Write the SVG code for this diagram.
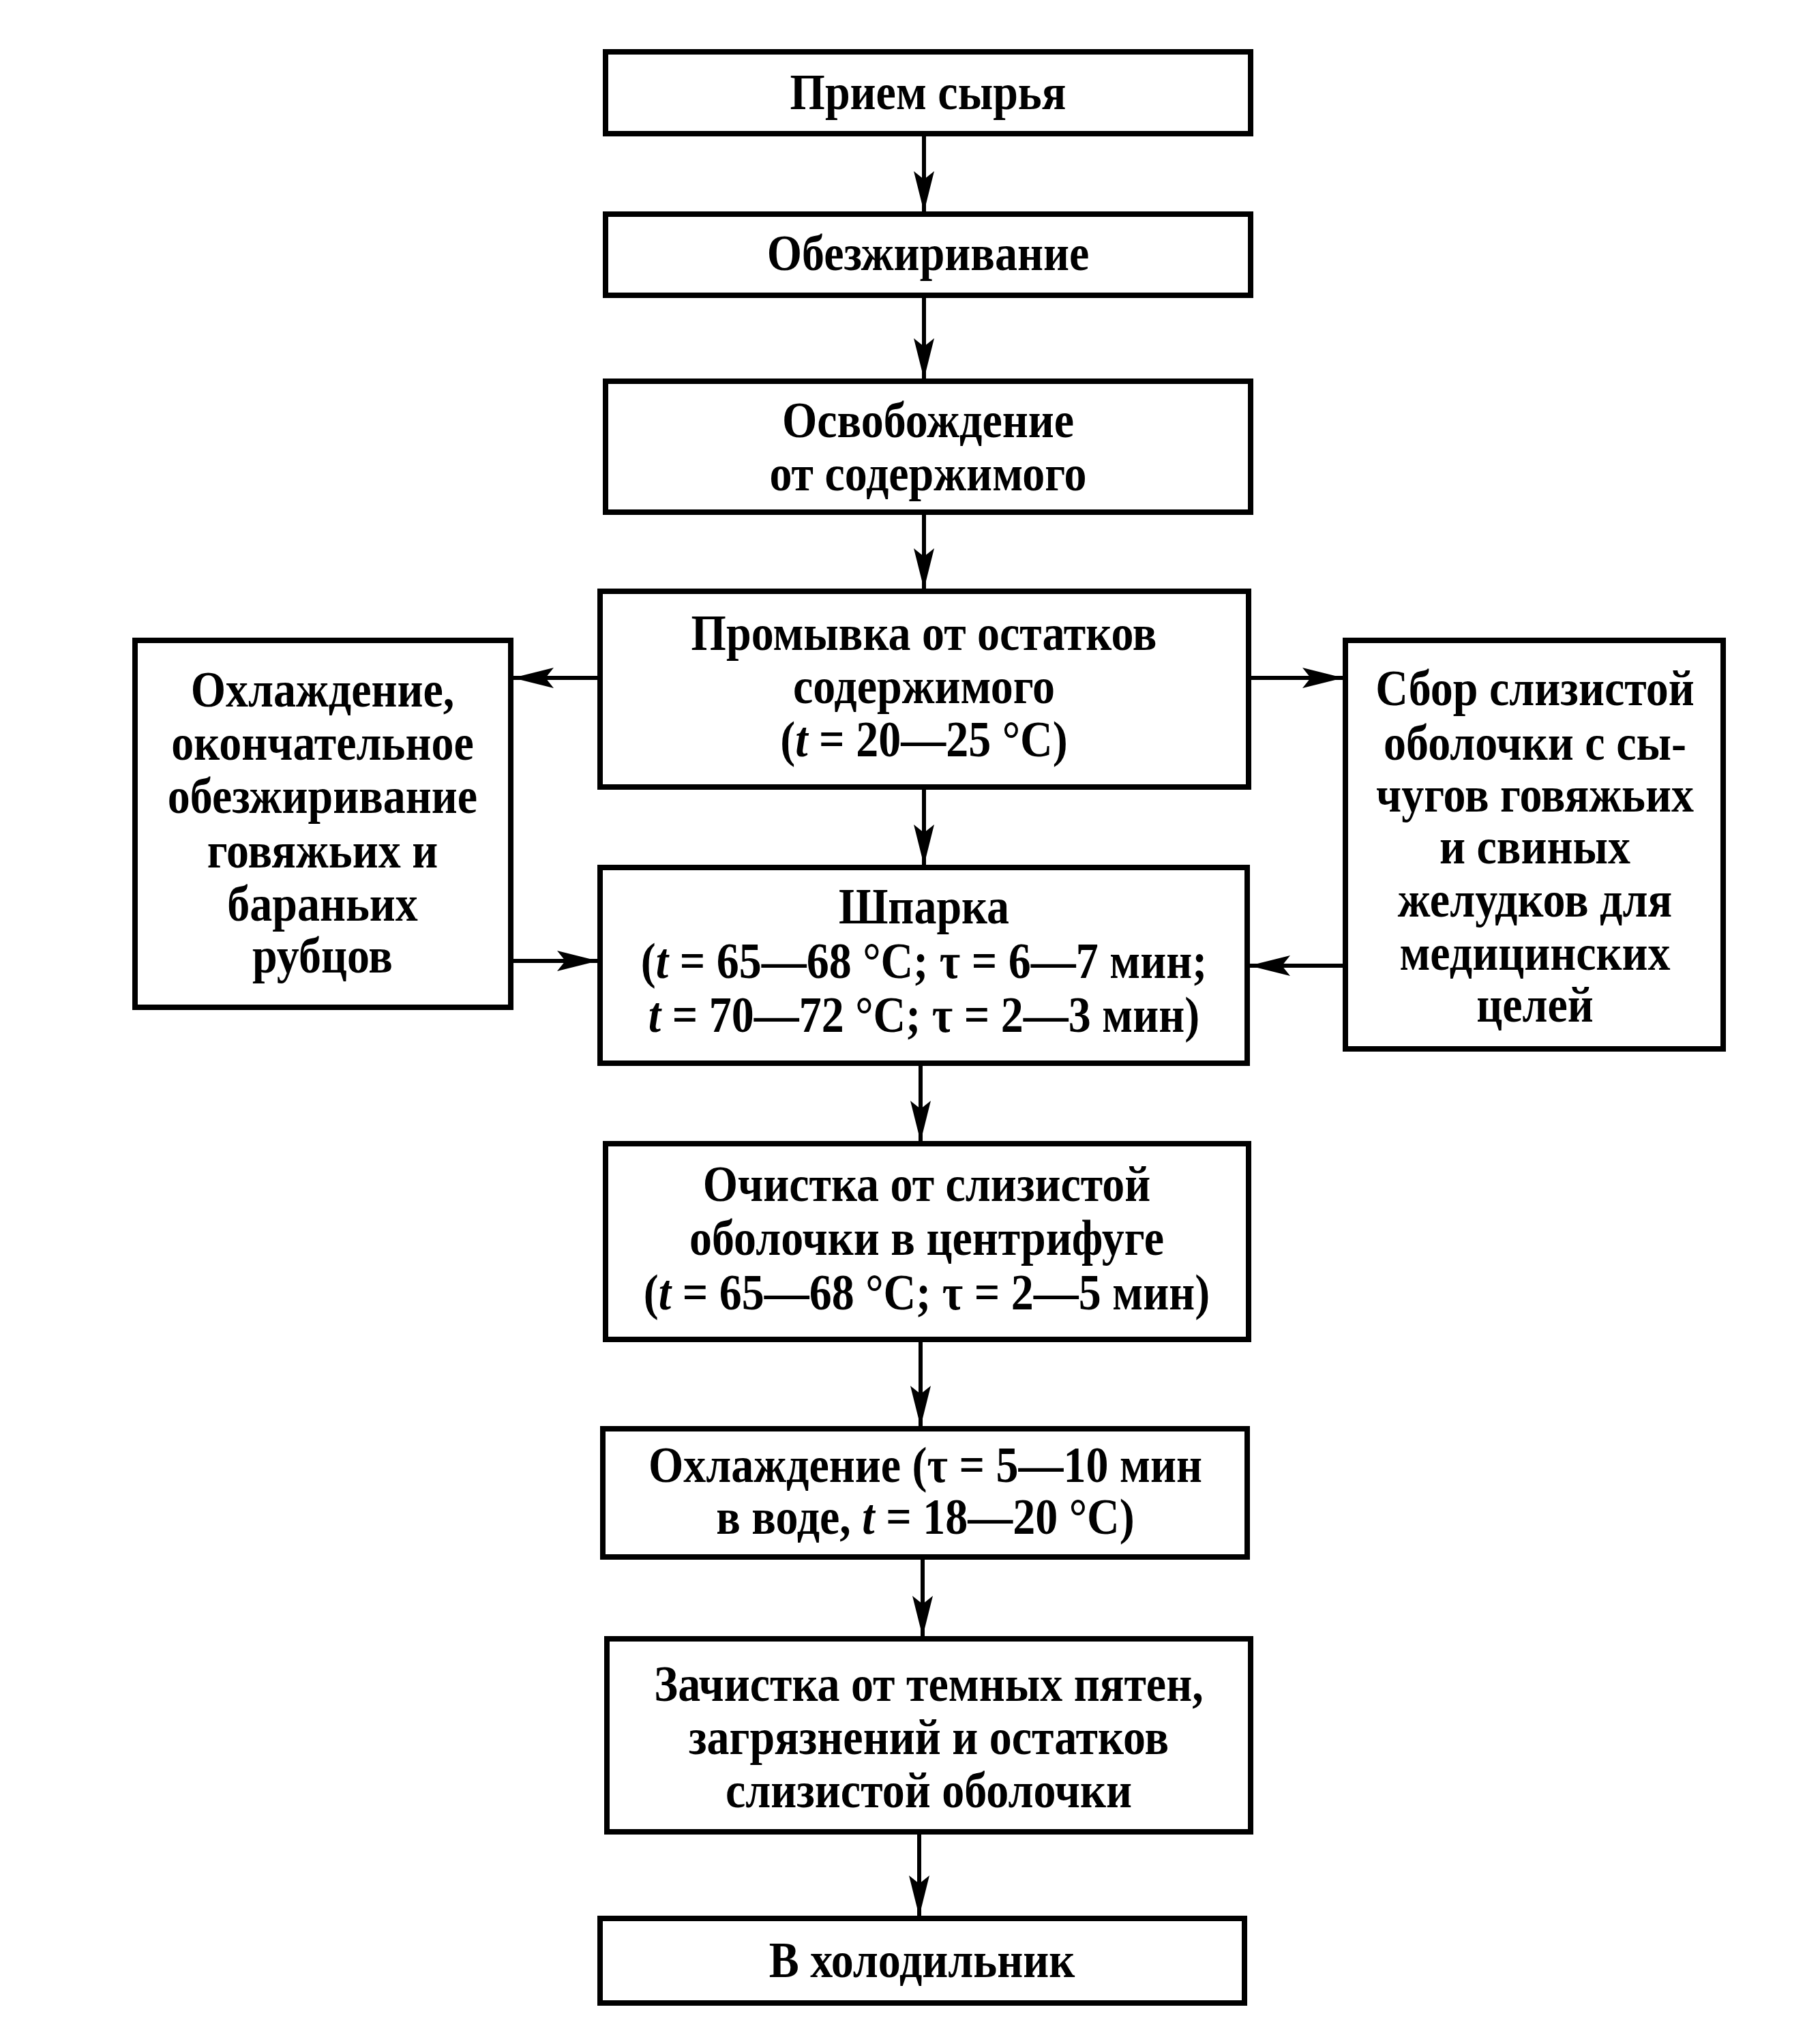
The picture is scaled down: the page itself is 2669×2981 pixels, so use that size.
<svg xmlns="http://www.w3.org/2000/svg" width="2669" height="2981" viewBox="0 0 2669 2981">
<style>
.box{fill:#fff;stroke:#000;stroke-width:8}
.t{font-family:"Liberation Serif","Times New Roman",serif;font-size:66px;font-weight:bold;text-anchor:middle;dominant-baseline:central;fill:#000}
.c{stroke:#000;stroke-width:6;fill:none;marker-end:url(#ah)}
</style>
<defs>
<marker id="ah" markerUnits="userSpaceOnUse" markerWidth="64" markerHeight="34" refX="60" refY="15" orient="auto">
<path d="M0,0 L60,15 L0,30 L12,15 Z" fill="#000"/>
</marker>
</defs>
<rect width="2669" height="2981" fill="#fff"/>
<g id="connectors">
<line class="c" x1="1355" y1="196" x2="1355" y2="311"/>
<line class="c" x1="1355" y1="433" x2="1355" y2="556"/>
<line class="c" x1="1355" y1="751" x2="1355" y2="864"/>
<line class="c" x1="1355" y1="1154" x2="1355" y2="1269"/>
<line class="c" x1="1350" y1="1559" x2="1350" y2="1674"/>
<line class="c" x1="1350" y1="1964" x2="1350" y2="2092"/>
<line class="c" x1="1353" y1="2283" x2="1353" y2="2400"/>
<line class="c" x1="1348" y1="2686" x2="1348" y2="2810"/>
<line class="c" x1="880" y1="994" x2="752" y2="994"/>
<line class="c" x1="749" y1="1409" x2="877" y2="1409"/>
<line class="c" x1="1831" y1="994" x2="1970" y2="994"/>
<line class="c" x1="1973" y1="1416" x2="1832" y2="1416"/>
</g>
<g id="n1"><rect class="box" x="888" y="76" width="946" height="120"/><text class="t" transform="translate(1361,135) scale(1,1.12)">Прием сырья</text></g>
<g id="n2"><rect class="box" x="888" y="314" width="946" height="119"/><text class="t" transform="translate(1361,371) scale(1,1.12)">Обезжиривание</text></g>
<g id="n3"><rect class="box" x="888" y="559" width="946" height="192"/><text class="t" transform="translate(1361,616) scale(1,1.12)">Освобождение</text><text class="t" transform="translate(1361,694) scale(1,1.12)">от содержимого</text></g>
<g id="n4"><rect class="box" x="880" y="867" width="951" height="287"/><text class="t" transform="translate(1355,928) scale(1,1.12)">Промывка от остатков</text><text class="t" transform="translate(1355,1006) scale(1,1.12)">содержимого</text><text class="t" transform="translate(1355,1084) scale(1,1.12)">(<tspan font-style="italic">t</tspan> = 20—25 °C)</text></g>
<g id="n5"><rect class="box" x="198" y="939" width="551" height="538"/><text class="t" transform="translate(473,1011) scale(1,1.12)">Охлаждение,</text><text class="t" transform="translate(473,1089) scale(1,1.12)">окончательное</text><text class="t" transform="translate(473,1167) scale(1,1.12)">обезжиривание</text><text class="t" transform="translate(473,1247) scale(1,1.12)">говяжьих и</text><text class="t" transform="translate(473,1325) scale(1,1.12)">бараньих</text><text class="t" transform="translate(473,1401) scale(1,1.12)">рубцов</text></g>
<g id="n6"><rect class="box" x="1973" y="939" width="554" height="599"/><text class="t" transform="translate(2251,1009) scale(1,1.12)">Сбор слизистой</text><text class="t" transform="translate(2251,1089) scale(1,1.12)">оболочки с сы-</text><text class="t" transform="translate(2251,1165) scale(1,1.12)">чугов говяжьих</text><text class="t" transform="translate(2251,1241) scale(1,1.12)">и свиных</text><text class="t" transform="translate(2251,1319) scale(1,1.12)">желудков для</text><text class="t" transform="translate(2251,1397) scale(1,1.12)">медицинских</text><text class="t" transform="translate(2251,1473) scale(1,1.12)">целей</text></g>
<g id="n7"><rect class="box" x="880" y="1272" width="949" height="287"/><text class="t" transform="translate(1355,1329) scale(1,1.12)">Шпарка</text><text class="t" transform="translate(1355,1409) scale(1,1.12)">(<tspan font-style="italic">t</tspan> = 65—68 °C; τ = 6—7 мин;</text><text class="t" transform="translate(1355,1488) scale(1,1.12)"><tspan font-style="italic">t</tspan> = 70—72 °C; τ = 2—3 мин)</text></g>
<g id="n8"><rect class="box" x="888" y="1677" width="943" height="287"/><text class="t" transform="translate(1359,1736) scale(1,1.12)">Очистка от слизистой</text><text class="t" transform="translate(1359,1815) scale(1,1.12)">оболочки в центрифуге</text><text class="t" transform="translate(1359,1895) scale(1,1.12)">(<tspan font-style="italic">t</tspan> = 65—68 °C; τ = 2—5 мин)</text></g>
<g id="n9"><rect class="box" x="884" y="2095" width="945" height="188"/><text class="t" transform="translate(1357,2148) scale(1,1.12)">Охлаждение (τ = 5—10 мин</text><text class="t" transform="translate(1357,2224) scale(1,1.12)">в воде, <tspan font-style="italic">t</tspan> = 18—20 °C)</text></g>
<g id="n10"><rect class="box" x="890" y="2403" width="944" height="283"/><text class="t" transform="translate(1362,2469) scale(1,1.12)">Зачистка от темных пятен,</text><text class="t" transform="translate(1362,2547) scale(1,1.12)">загрязнений и остатков</text><text class="t" transform="translate(1362,2625) scale(1,1.12)">слизистой оболочки</text></g>
<g id="n11"><rect class="box" x="880" y="2813" width="945" height="124"/><text class="t" transform="translate(1352,2874) scale(1,1.12)">В холодильник</text></g>
</svg>
